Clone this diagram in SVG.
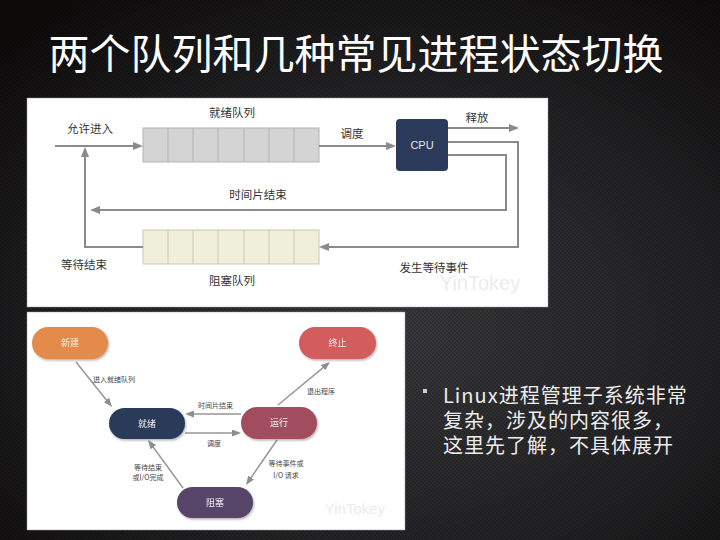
<svg xmlns="http://www.w3.org/2000/svg" width="720" height="540" viewBox="0 0 720 540">
<defs>
  <radialGradient id="bg" cx="0.55" cy="0.6" r="0.75">
    <stop offset="0" stop-color="#3a3a3c"/>
    <stop offset="0.6" stop-color="#222224"/>
    <stop offset="1" stop-color="#0e0b0b"/>
  </radialGradient>
  <pattern id="tex" width="4" height="4" patternUnits="userSpaceOnUse">
    <rect x="0" y="0" width="2" height="2" fill="#000" opacity="0.18"/>
    <rect x="2" y="2" width="2" height="2" fill="#000" opacity="0.18"/>
  </pattern>
  <marker id="ah" markerWidth="10" markerHeight="8" refX="7" refY="4" orient="auto" markerUnits="userSpaceOnUse">
    <path d="M0,0 L10,4 L0,8 z" fill="#8a8a8a"/>
  </marker>
  <marker id="ahs" markerWidth="9" markerHeight="7" refX="6" refY="3.5" orient="auto" markerUnits="userSpaceOnUse">
    <path d="M0,0 L9,3.5 L0,7 z" fill="#8e8e8e"/>
  </marker>
  <filter id="sh" x="-20%" y="-20%" width="140%" height="150%">
    <feDropShadow dx="1" dy="1.5" stdDeviation="1.2" flood-color="#000" flood-opacity="0.3"/>
  </filter>
  <style>
    .t{font-family:"Noto Sans CJK SC","Liberation Sans",sans-serif;}
    .lbl{font-size:11.5px;fill:#333;}
    .sl{font-size:7px;fill:#444;}
    .pt{font-size:9px;fill:#f2f2f2;text-anchor:middle;}
    .ln{fill:none;stroke:#8a8a8a;stroke-width:2;}
    .sln{fill:none;stroke:#969696;stroke-width:1.5;}
    .rq{fill:#d4d4d4;stroke:#b3b3b3;stroke-width:1;}
    .bq{fill:#f0efd9;stroke:#c9c8b4;stroke-width:1;}
    .wm{font-family:"Liberation Sans",sans-serif;fill:#ececec;}
  </style>
</defs>

<rect width="720" height="540" fill="url(#bg)"/>
<rect width="720" height="540" fill="url(#tex)"/>

<text class="t" x="356" y="69" font-size="41" fill="#ffffff" text-anchor="middle">两个队列和几种常见进程状态切换</text>

<!-- Top panel -->
<g id="panel-top">
  <rect x="27" y="98" width="521" height="209" fill="#ffffff" stroke="#999" stroke-width="0.5"/>
  <text class="wm" x="480" y="290" font-size="20" text-anchor="middle">YinTokey</text>
</g>

<g id="ready-queue">
  <rect class="rq" x="143" y="128" width="176" height="34"/>
  <path d="M168,128V162M193,128V162M218,128V162M244,128V162M269,128V162M294,128V162" stroke="#b3b3b3" stroke-width="1"/>
  <text class="t lbl" x="232" y="117" text-anchor="middle">就绪队列</text>
</g>

<g id="blocked-queue">
  <rect class="bq" x="143" y="230" width="176" height="34"/>
  <path d="M168,230V264M193,230V264M218,230V264M244,230V264M269,230V264M294,230V264" stroke="#c9c8b4" stroke-width="1"/>
  <text class="t lbl" x="232" y="285" text-anchor="middle">阻塞队列</text>
</g>

<g id="cpu">
  <rect x="396" y="119" width="52" height="52" rx="4" fill="#2c3a5b"/>
  <text x="422" y="149" font-family="Liberation Sans,sans-serif" font-size="11" fill="#e6e6e6" text-anchor="middle">CPU</text>
</g>

<g id="connectors-top">
  <path class="ln" d="M55,146H140" marker-end="url(#ah)"/>
  <path class="ln" d="M319,146H393" marker-end="url(#ah)"/>
  <path class="ln" d="M448,128H516" marker-end="url(#ah)"/>
  <path class="ln" d="M448,155H506V210H93" marker-end="url(#ah)"/>
  <path class="ln" d="M448,142H518V247H322" marker-end="url(#ah)"/>
  <path class="ln" d="M143,247H85V150" marker-end="url(#ah)"/>
  <text class="t lbl" x="90" y="133" text-anchor="middle">允许进入</text>
  <text class="t lbl" x="352" y="138" text-anchor="middle">调度</text>
  <text class="t lbl" x="477" y="122" text-anchor="middle">释放</text>
  <text class="t lbl" x="258" y="199" text-anchor="middle">时间片结束</text>
  <text class="t lbl" x="84" y="269" text-anchor="middle">等待结束</text>
  <text class="t lbl" x="434" y="272" text-anchor="middle">发生等待事件</text>
</g>

<!-- Bottom panel -->
<g id="panel-bottom">
  <rect x="27" y="312" width="378" height="218" fill="#ffffff" stroke="#999" stroke-width="0.5"/>
  <text class="wm" x="355" y="514" font-size="15" text-anchor="middle">YinTokey</text>
</g>

<g id="connectors-bottom">
  <path class="sln" d="M76,362L110.2,404.7" marker-end="url(#ahs)"/>
  <path class="sln" d="M241,414H188" marker-end="url(#ahs)"/>
  <path class="sln" d="M185,433H238" marker-end="url(#ahs)"/>
  <path class="sln" d="M183,488L149.8,442.4" marker-end="url(#ahs)"/>
  <path class="sln" d="M278,405L327.7,363.9" marker-end="url(#ahs)"/>
  <path class="sln" d="M277,440L247.7,482.5" marker-end="url(#ahs)"/>
  <text class="t sl" x="93" y="382">进入就绪队列</text>
  <text class="t sl" x="198" y="408">时间片结束</text>
  <text class="t sl" x="207" y="446">调度</text>
  <text class="t sl" x="148" y="469.5" text-anchor="middle">等待结束</text>
  <text class="t sl" x="148" y="480" text-anchor="middle">或I/O完成</text>
  <text class="t sl" x="307" y="393.5">退出程序</text>
  <text class="t sl" x="286" y="466" text-anchor="middle">等待事件或</text>
  <text class="t sl" x="286" y="478" text-anchor="middle">I/O 请求</text>
</g>

<g id="state-new" filter="url(#sh)">
  <rect x="32" y="327" width="76" height="32" rx="16" fill="#e28b4b"/>
  <text class="t pt" x="70" y="346">新建</text>
</g>
<g id="state-ready" filter="url(#sh)">
  <rect x="109" y="408" width="76" height="31" rx="15.5" fill="#2b3a5a"/>
  <text class="t pt" x="147" y="427">就绪</text>
</g>
<g id="state-running" filter="url(#sh)">
  <rect x="241" y="407" width="76" height="32" rx="16" fill="#a24e5f"/>
  <text class="t pt" x="279" y="426">运行</text>
</g>
<g id="state-blocked" filter="url(#sh)">
  <rect x="177" y="487" width="76" height="31" rx="15.5" fill="#574468"/>
  <text class="t pt" x="215" y="505.5">阻塞</text>
</g>
<g id="state-exit" filter="url(#sh)">
  <rect x="299" y="327" width="77" height="32" rx="16" fill="#d35b5c"/>
  <text class="t pt" x="337.5" y="346">终止</text>
</g>

<!-- Bullet text -->
<g id="bullet">
  <rect x="423" y="389" width="4" height="4" fill="#cfcfcf"/>
  <text class="t" font-size="20" letter-spacing="1" fill="#ececec">
    <tspan x="443" y="403">Linux进程管理子系统非常</tspan>
    <tspan x="443" y="428">复杂，涉及的内容很多，</tspan>
    <tspan x="443" y="453">这里先了解，不具体展开</tspan>
  </text>
</g>
</svg>
